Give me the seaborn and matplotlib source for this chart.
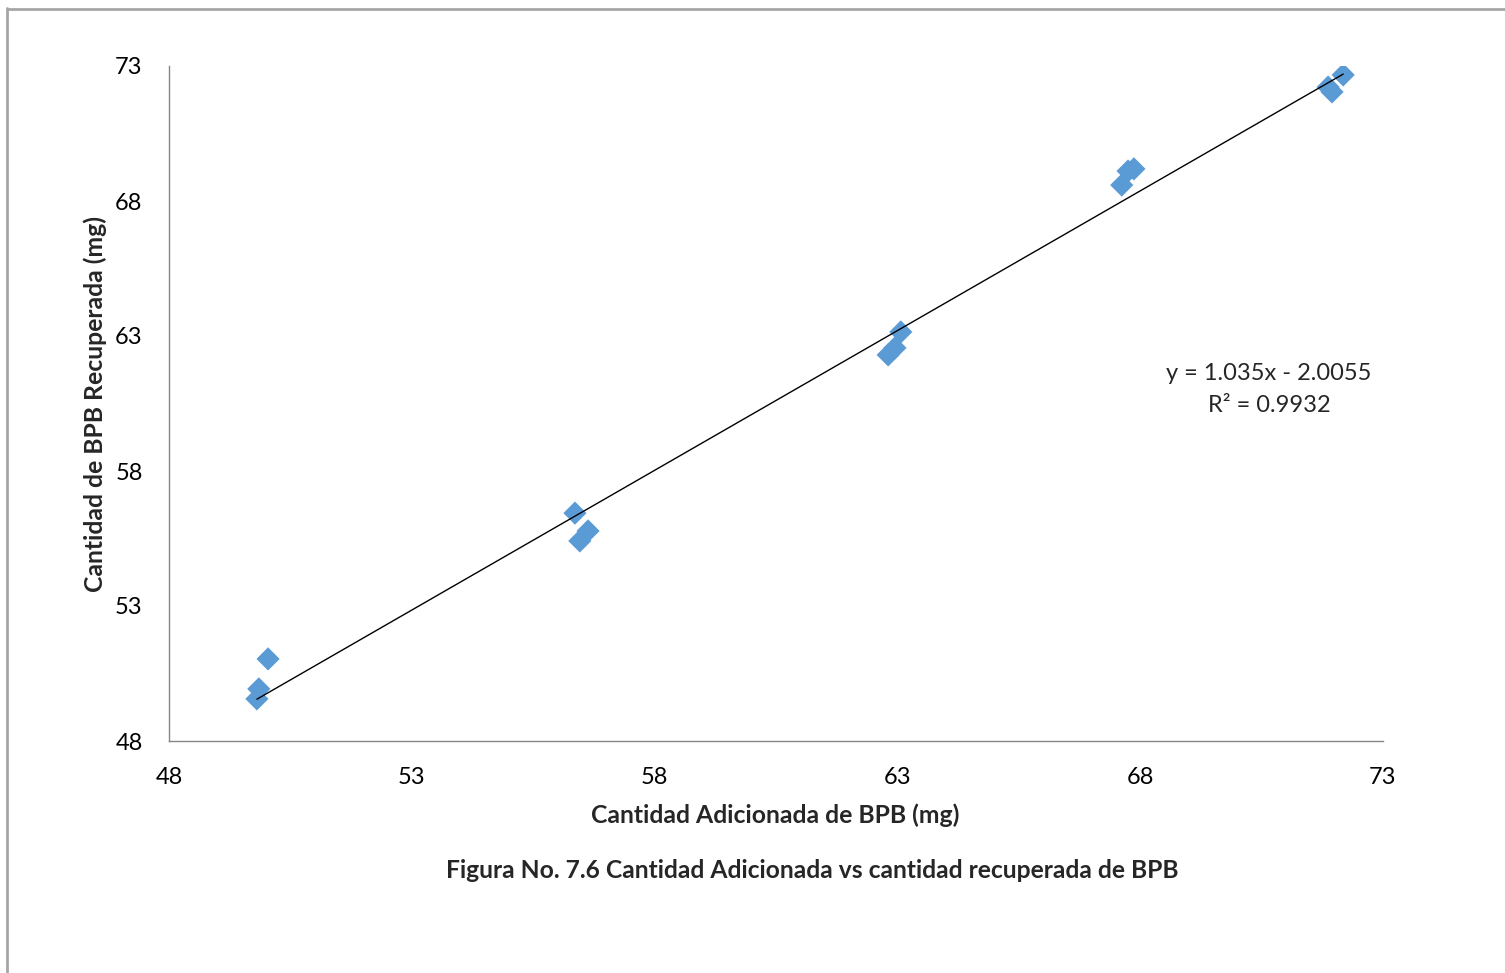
import matplotlib
matplotlib.use("Agg")
import matplotlib.pyplot as plt
import seaborn as sns
import numpy as np
import pandas as pd
from matplotlib.lines import Line2D

# Data
added = [50.04, 49.85, 49.81, 56.36, 56.46, 56.63, 63.07, 62.81, 62.95,
         67.62, 67.75, 67.87, 72.18, 71.87, 71.95]
recovered = [51.04, 49.93, 49.56, 56.44, 55.41, 55.78, 63.15, 62.30, 62.56,
             68.59, 69.11, 69.19, 72.67, 72.22, 72.04]
slope = 1.035
intercept = -2.0055
r2 = 0.9932
x_ticks = [48, 53, 58, 63, 68, 73]
y_ticks = [48, 53, 58, 63, 68, 73]

sns.set_theme(style="white")
plt.rcParams['font.family'] = ['Lato', 'DejaVu Sans']

df = pd.DataFrame({"added": added, "recovered": recovered})

fig = plt.figure(figsize=(15.05, 9.73), dpi=100)
ax = fig.add_axes([169/1505, 1-741/973, (1383-169)/1505, (741-66)/973])

sns.scatterplot(data=df, x="added", y="recovered", ax=ax, marker="D",
                s=140, color="#5B9BD5", edgecolor="none", zorder=3)

xs = np.array([min(added), max(added)])
ax.plot(xs, slope*xs + intercept, color="black", lw=1.0, zorder=4)

ax.set_xlim(48, 73)
ax.set_ylim(48, 73)
ax.set_xticks(x_ticks)
ax.set_yticks(y_ticks)
ax.tick_params(axis='both', which='both', length=0, labelsize=17, colors="#000000")
ax.tick_params(axis='x', pad=19)
ax.tick_params(axis='y', pad=19)
for s in ["top", "right"]:
    ax.spines[s].set_visible(False)
for s in ["left", "bottom"]:
    ax.spines[s].set_color("#868686")
    ax.spines[s].set_linewidth(1.0)

ax.set_xlabel("Cantidad Adicionada de BPB (mg)", fontsize=17.8, fontweight="bold", va="center")
ax.xaxis.set_label_coords((775-169)/1214, (741-815)/675)
ax.set_ylabel("Cantidad de BPB Recuperada (mg)", fontsize=17.8, fontweight="bold", va="center")
ax.yaxis.set_label_coords((95-169)/1214, (741-403.5)/675)

ax.text(1269/1505, 1-373/973, f"y = {slope}x - {abs(intercept)}", transform=fig.transFigure,
        ha="center", va="center", fontsize=17)
ax.text(1269/1505, 1-405/973, f"R² = {r2}", transform=fig.transFigure,
        ha="center", va="center", fontsize=17)

fig.text(812/1505, 1-871/973, "Figura No. 7.6 Cantidad Adicionada vs cantidad recuperada de BPB",
         ha="center", va="center", fontsize=17.7, fontweight="bold")

# outer border
fig.add_artist(Line2D([7.5/1505, 7.5/1505], [0, 1-8/973], transform=fig.transFigure,
                      color="#A6A6A6", lw=2))
fig.add_artist(Line2D([7.5/1505, 1], [1-8.5/973, 1-8.5/973], transform=fig.transFigure,
                      color="#A6A6A6", lw=2))

fig.savefig("out.png", dpi=100)
